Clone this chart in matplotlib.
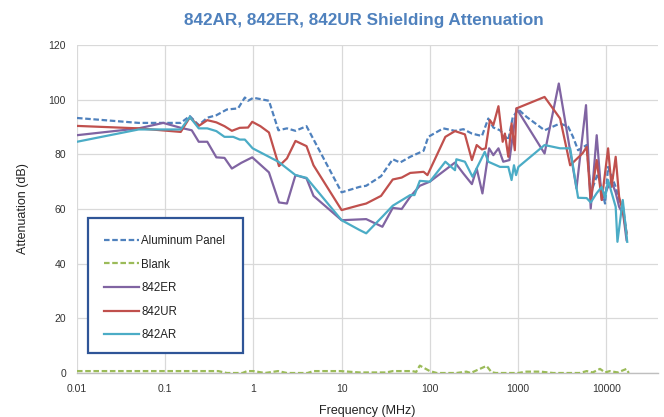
import matplotlib
matplotlib.use("Agg")
import matplotlib.pyplot as plt
from matplotlib.ticker import FixedLocator, FixedFormatter, NullLocator
from matplotlib.patches import Rectangle

plt.rcParams['font.family'] = ['Liberation Sans', 'DejaVu Sans']

# ---------------- data ----------------
al_freq = [0.01, 0.05, 0.15, 0.19, 0.24, 0.3, 0.38, 0.5, 0.67, 0.8, 0.87, 1.0, 1.5, 1.92, 2.4, 3.0, 4.0,
           10, 16, 19, 28, 38, 46, 60, 85, 96, 142, 193, 240, 300, 390, 460, 525, 625, 776, 870, 1010,
           1250, 2000, 3000, 3700, 4200, 4800, 6000, 6670, 8000, 9700, 10500, 12800, 14000, 15500, 17000]
al_db = [93.3, 91.5, 91.5, 94.0, 90.7, 93.4, 94.3, 96.4, 96.8, 100.8, 99.6, 100.7, 99.6, 88.8, 89.5, 88.6, 90.3,
         66.1, 68.1, 68.5, 72.0, 78.2, 77.0, 79.1, 81.3, 86.4, 89.5, 88.6, 89.2, 87.6, 86.7, 93.1, 89.8, 88.8, 85.2, 93.5, 96.4,
         93.7, 88.8, 91.3, 90.1, 86.4, 81.5, 83.4, 65.7, 73.0, 62.0, 75.4, 68.1, 63.3, 60.8, 51.2]

blank_freq = [0.01, 0.4, 0.5, 0.75, 0.85, 1.0, 1.35, 1.9, 2.4, 4.1, 4.8, 9.7, 16, 32, 38, 63, 70, 77, 100,
              120, 200, 260, 290, 440, 500, 560, 1000, 1250, 1800, 2500, 5000, 6000, 7000, 8500, 9700,
              11000, 13500, 17000, 18000]
blank_db = [0.7, 0.7, 0.0, 0.0, 0.7, 0.7, 0.0, 0.7, 0.0, 0.0, 0.7, 0.7, 0.2, 0.2, 0.7, 0.7, 0.4, 2.7, 0.7,
            0.0, 0.0, 0.5, 0.0, 2.6, 0.3, 0.0, 0.0, 0.5, 0.5, 0.0, 0.0, 0.7, 0.2, 1.5, 0.2,
            0.7, 0.2, 1.5, 0.0]

er_freq = [0.01, 0.05, 0.095, 0.15, 0.2, 0.24, 0.3, 0.38, 0.47, 0.57, 0.73, 0.97, 1.5, 1.95, 2.4, 3.0, 4.0, 4.8,
           10, 19, 29, 38, 48, 60, 77, 100, 193, 240, 300, 340, 395, 470, 525, 600, 680, 800, 960,
           2000, 2900, 4600, 5900, 6670, 7800, 8900, 10500, 11500, 12800, 14000, 15600, 17000]
er_db = [87.0, 89.5, 91.5, 89.7, 88.8, 84.6, 84.6, 78.9, 78.7, 74.8, 76.9, 78.9, 73.4, 62.4, 62.0, 72.4, 71.2, 64.8,
         55.9, 56.3, 53.5, 60.4, 60.0, 64.5, 68.5, 70.0, 77.0, 73.0, 69.1, 74.8, 65.7, 82.2, 79.7, 82.2, 77.3, 77.9, 96.8,
         80.3, 105.9, 67.5, 98.0, 60.2, 87.0, 63.3, 68.1, 70.0, 66.0, 60.8, 58.0, 48.6]

ur_freq = [0.01, 0.05, 0.15, 0.19, 0.24, 0.3, 0.38, 0.47, 0.57, 0.7, 0.87, 0.97, 1.2, 1.5, 1.95, 2.4, 3.0, 4.0, 4.8,
           10, 16, 19, 28, 38, 48, 60, 85, 94, 120, 150, 193, 250, 300, 340, 390, 430, 480, 525, 600, 670, 710,
           776, 845, 920, 960, 2000, 3000, 3900, 5400, 6000, 6670, 7800, 8900, 10500, 11500, 12800, 14000,
           15600, 17000]
ur_db = [90.4, 89.5, 88.2, 93.5, 90.4, 92.5, 91.7, 90.3, 88.6, 89.7, 89.8, 91.9, 90.3, 88.0, 75.7, 78.5, 84.9, 83.0, 76.0,
         59.6, 61.4, 62.0, 64.8, 70.8, 71.5, 73.2, 73.6, 72.4, 79.7, 86.4, 88.5, 87.3, 77.9, 83.4, 81.8, 82.2, 92.5, 90.7, 97.6, 84.6, 87.6,
         79.1, 91.3, 81.5, 96.8, 101.0, 93.1, 76.0, 80.4, 82.7, 63.3, 77.9, 63.3, 82.2, 68.1, 79.1, 64.5,
         58.4, 51.0]

ar_freq = [0.01, 0.05, 0.15, 0.19, 0.24, 0.3, 0.38, 0.47, 0.59, 0.7, 0.8, 0.98, 1.92, 3.0, 4.0,
           10, 16, 19, 29, 38, 60, 67, 77, 100, 150, 193, 200, 250, 305, 420, 460, 625, 776, 845, 900, 950, 1010,
           2000, 3000, 3900, 4800, 6000, 6670, 7800, 8900, 9700, 10500, 11500, 12800, 13400, 15400, 17300]
ar_db = [84.6, 89.1, 89.1, 93.7, 89.5, 89.5, 88.5, 86.4, 86.4, 85.4, 85.4, 82.2, 77.3, 72.4, 71.4,
         55.9, 52.3, 51.1, 57.2, 61.2, 65.1, 65.1, 70.3, 70.0, 77.3, 74.2, 78.2, 77.3, 71.8, 80.9, 77.3, 75.4, 75.4, 70.6, 76.0, 72.4, 75.4,
         83.4, 82.2, 82.2, 64.1, 64.0, 62.4, 65.8, 68.1, 64.0, 70.6, 66.0, 60.8, 48.0, 63.3, 48.0]

x_ticks = [0.01, 0.1, 1, 10, 100, 1000, 10000]
x_tick_labels = ["0.01", "0.1", "1", "10", "100", "1000", "10000"]
y_ticks = [0, 20, 40, 60, 80, 100, 120]

title = "842AR, 842ER, 842UR Shielding Attenuation"

# ---------------- figure ----------------
W, H = 664, 417
fig = plt.figure(figsize=(W/100, H/100), dpi=100)
ax_l, ax_r, ax_t, ax_b = 77, 658, 45, 373
ax = fig.add_axes([ax_l/W, 1 - ax_b/H, (ax_r-ax_l)/W, (ax_b-ax_t)/H])

def ax_x(px):
    return (px - ax_l) / (ax_r - ax_l)

def ax_y(py):
    return (ax_b - py) / (ax_b - ax_t)

lw = 1.6
ax.plot(al_freq, al_db, color='#4F81BD', lw=lw, dashes=(2.5, 1.2), label='Aluminum Panel', zorder=3)
ax.plot(blank_freq, blank_db, color='#9BBB59', lw=lw, dashes=(2.5, 1.2), label='Blank', zorder=3)
ax.plot(er_freq, er_db, color='#8064A2', lw=lw, label='842ER', zorder=3)
ax.plot(ur_freq, ur_db, color='#C0504D', lw=lw, label='842UR', zorder=3)
ax.plot(ar_freq, ar_db, color='#4BACC6', lw=lw, label='842AR', zorder=3)

ax.set_xscale('log')
ax.set_xlim(0.01, 10**4.587)
ax.set_ylim(0, 120)
ax.xaxis.set_major_locator(FixedLocator(x_ticks))
ax.xaxis.set_major_formatter(FixedFormatter(x_tick_labels))
ax.xaxis.set_minor_locator(NullLocator())
ax.set_yticks(y_ticks)

ax.grid(True, color='#D9D9D9', lw=0.9)
ax.set_axisbelow(True)
for s in ['top', 'right', 'left']:
    ax.spines[s].set_visible(False)
ax.spines['bottom'].set_color('#BFBFBF')
ax.spines['bottom'].set_linewidth(1.0)
ax.tick_params(axis='both', length=0, labelsize=7.5, colors='#333333')
ax.tick_params(axis='x', pad=8)
ax.tick_params(axis='y', pad=8)

ax.set_xlabel('Frequency (MHz)', fontsize=9, color='#222222', labelpad=8)
ax.set_ylabel('Attenuation (dB)', fontsize=9, color='#222222', labelpad=14)

fig.text(364/W, 1 - 21/H, title, ha='center', va='center', fontsize=12.3,
         fontweight='bold', color='#4F81BD')

# legend box drawn explicitly, legend itself frameless inside it
box = Rectangle((ax_x(88), ax_y(353)), ax_x(243) - ax_x(88), ax_y(218) - ax_y(353),
                transform=ax.transAxes, facecolor='white', edgecolor='#2F5597',
                lw=1.6, zorder=4, clip_on=False)
ax.add_patch(box)
leg = ax.legend(loc='upper left', bbox_to_anchor=(ax_x(104), ax_y(235)),
                fontsize=8.3, frameon=False, borderpad=0,
                labelspacing=1.0, handlelength=3.0, handletextpad=0.25,
                borderaxespad=0)
leg.set_zorder(5)
for t in leg.get_texts():
    t.set_color('#222222')

fig.savefig('out.png', dpi=100)
